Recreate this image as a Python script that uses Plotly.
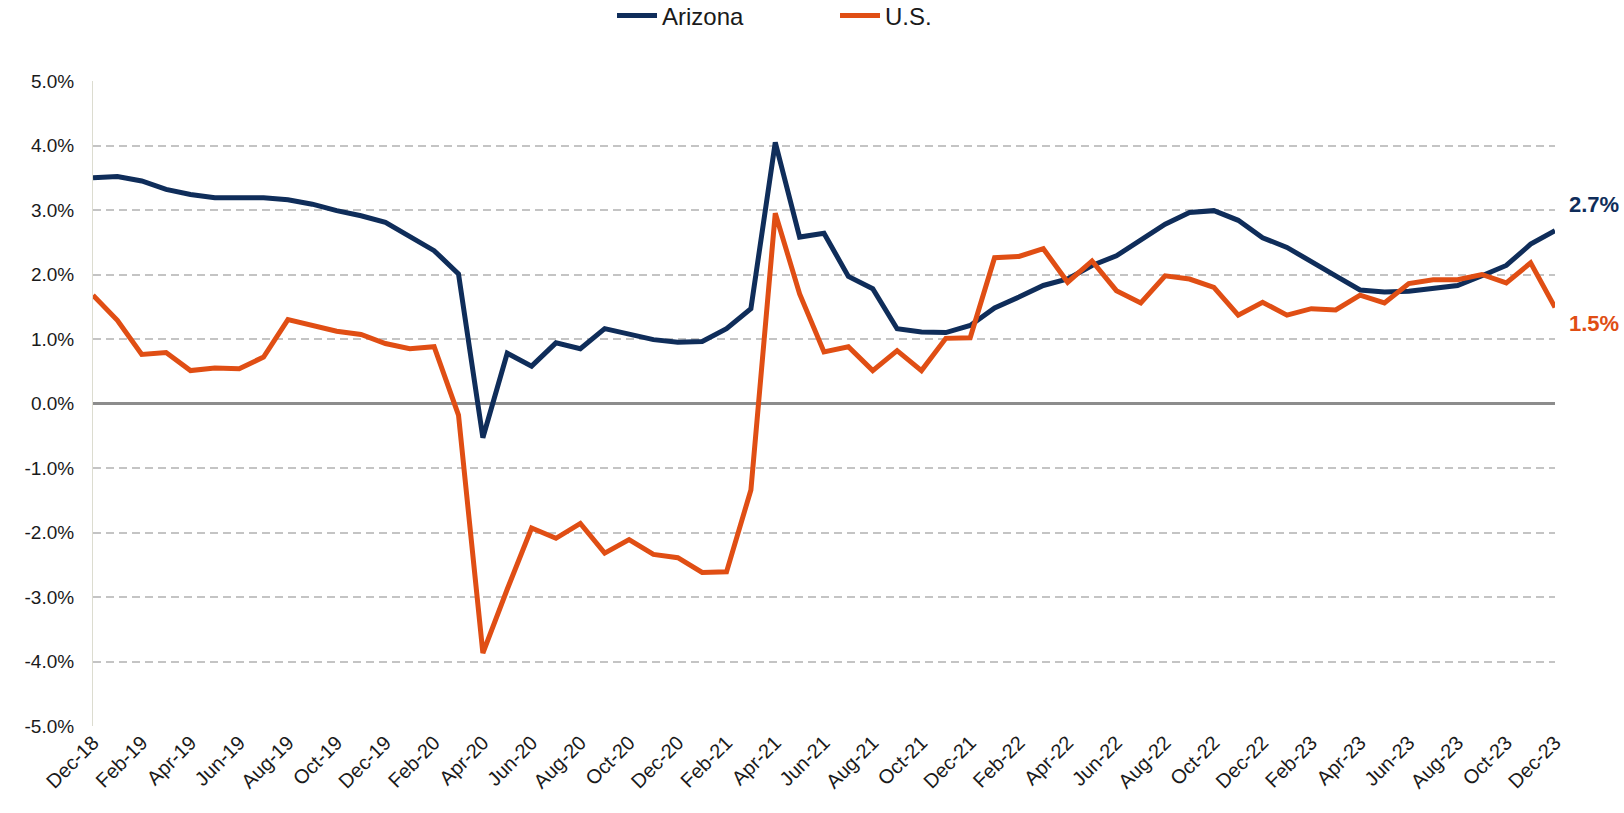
import plotly.graph_objects as go

months = [
    "Dec-18", "Jan-19", "Feb-19", "Mar-19", "Apr-19", "May-19", "Jun-19", "Jul-19", "Aug-19", "Sep-19", "Oct-19", "Nov-19",
    "Dec-19", "Jan-20", "Feb-20", "Mar-20", "Apr-20", "May-20", "Jun-20", "Jul-20", "Aug-20", "Sep-20", "Oct-20", "Nov-20",
    "Dec-20", "Jan-21", "Feb-21", "Mar-21", "Apr-21", "May-21", "Jun-21", "Jul-21", "Aug-21", "Sep-21", "Oct-21", "Nov-21",
    "Dec-21", "Jan-22", "Feb-22", "Mar-22", "Apr-22", "May-22", "Jun-22", "Jul-22", "Aug-22", "Sep-22", "Oct-22", "Nov-22",
    "Dec-22", "Jan-23", "Feb-23", "Mar-23", "Apr-23", "May-23", "Jun-23", "Jul-23", "Aug-23", "Sep-23", "Oct-23", "Nov-23",
    "Dec-23",
]

arizona = [
    3.50, 3.52, 3.45, 3.32, 3.24, 3.19, 3.19, 3.19, 3.16, 3.09, 2.99, 2.91,
    2.81, 2.60, 2.37, 2.01, -0.53, 0.78, 0.58, 0.94, 0.85, 1.16, 1.08, 0.99,
    0.95, 0.96, 1.16, 1.47, 4.05, 2.58, 2.64, 1.97, 1.78, 1.16, 1.11, 1.10,
    1.21, 1.48, 1.65, 1.83, 1.93, 2.14, 2.29, 2.53, 2.78, 2.96, 2.99, 2.84,
    2.57, 2.42, 2.19, 1.98, 1.76, 1.73, 1.74, 1.78, 1.83, 1.98, 2.14, 2.47,
    2.68,
]

us = [
    1.68, 1.29, 0.76, 0.79, 0.51, 0.55, 0.54, 0.72, 1.30, 1.21, 1.12, 1.07,
    0.93, 0.85, 0.88, -0.18, -3.87, -2.88, -1.93, -2.09, -1.86, -2.32, -2.11, -2.34,
    -2.39, -2.62, -2.61, -1.34, 2.95, 1.70, 0.80, 0.88, 0.51, 0.82, 0.51, 1.01,
    1.02, 2.26, 2.28, 2.40, 1.88, 2.21, 1.75, 1.56, 1.98, 1.93, 1.80, 1.37,
    1.57, 1.37, 1.47, 1.45, 1.68, 1.56, 1.86, 1.92, 1.92, 2.00, 1.87, 2.18,
    1.49,
]

end_labels = ["2.7%", "1.5%"]

y_ticks = [-5, -4, -3, -2, -1, 0, 1, 2, 3, 4, 5]
y_ticktext = [f"{v:.1f}%" for v in y_ticks]
x_ticks = months[::2]

navy = "#0f2d5a"
orange = "#e04e14"
font_family = "Liberation Sans, Arial, sans-serif"

fig = go.Figure()
fig.add_trace(go.Scatter(x=months, y=arizona, name="Arizona", mode="lines",
                         line=dict(color=navy, width=5)))
fig.add_trace(go.Scatter(x=months, y=us, name="U.S.", mode="lines",
                         line=dict(color=orange, width=5)))

fig.add_annotation(xref="paper", x=1, xanchor="left", xshift=12, yref="y", y=3.09,
                   text=f"<b>{end_labels[0]}</b>", showarrow=False,
                   font=dict(color=navy, size=22, family=font_family))
fig.add_annotation(xref="paper", x=1, xanchor="left", xshift=12, yref="y", y=1.24,
                   text=f"<b>{end_labels[1]}</b>", showarrow=False,
                   font=dict(color=orange, size=22, family=font_family))

fig.update_layout(
    width=1624, height=813,
    margin=dict(l=93, r=69, t=81, b=87),
    paper_bgcolor="white", plot_bgcolor="white",
    font=dict(family=font_family, size=20, color="#1a1a1a"),
    legend=dict(orientation="h", x=0.355, xanchor="left", y=1 - 16 / 813, yref="container",
                yanchor="middle", font=dict(size=24), itemwidth=40,
                bgcolor="rgba(0,0,0,0)", tracegroupgap=0, entrywidth=168),
    showlegend=True,
)
fig.update_xaxes(type="category", range=[0, len(months) - 1], tickmode="array",
                 tickvals=x_ticks, ticktext=x_ticks, tickangle=-45, automargin=False,
                 tickfont=dict(size=20, color="#1a1a1a"), showgrid=False,
                 showline=False, zeroline=False, ticks="")
fig.update_yaxes(range=[-5, 5], tickmode="array", tickvals=y_ticks, ticktext=y_ticktext,
                 automargin=False, ticklabelstandoff=14,
                 tickfont=dict(size=19, color="#1a1a1a"), showgrid=True,
                 gridcolor="#c4c4c4", griddash="8px,5px", gridwidth=1.5,
                 zeroline=True, zerolinecolor="#8c8c8c", zerolinewidth=2.5,
                 showline=True, linecolor="#dcdcd0", linewidth=1, ticks="")

fig.write_html("out.html", config={"displayModeBar": False},
               post_script="document.body.style.margin='0';document.body.style.overflow='hidden';")
